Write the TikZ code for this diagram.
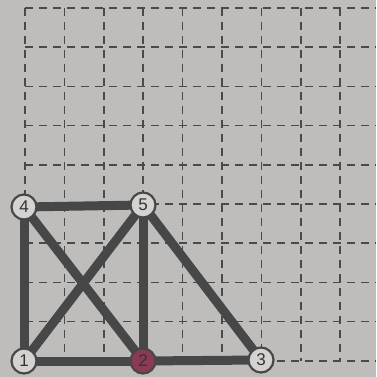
\documentclass[tikz,border=0pt]{standalone}
\usepackage{fontspec}
\setmainfont{Liberation Sans}
\usetikzlibrary{backgrounds}
\definecolor{paper}{HTML}{BEBDBB}
\definecolor{gridc}{HTML}{4A4A4A}
\definecolor{edgec}{HTML}{474747}
\definecolor{nodefill}{HTML}{D4D3D1}
\definecolor{redfill}{HTML}{8A3A55}
\begin{document}
\begin{tikzpicture}[x=1pt,y=-1pt,
  gridline/.style={draw=gridc,line width=1.7pt,dash pattern=on 8pt off 6pt},
  edge/.style={draw=edgec,line width=9pt},
  vertex/.style={circle,draw=edgec,line width=2.2pt,fill=nodefill,minimum size=25pt,inner sep=0pt,font=\fontsize{17}{17}\selectfont,text=black!80},
  redvertex/.style={vertex,fill=redfill}]
\useasboundingbox (0,0) rectangle (376,377);
% nodes
\node[vertex] (n1) at (24,361) {1};
\node[redvertex] (n2) at (143,361) {2};
\node[vertex] (n3) at (261,360) {3};
\node[vertex] (n4) at (24,207) {4};
\node[vertex] (n5) at (143,205) {5};
\begin{scope}[on background layer]
\fill[paper] (0,0) rectangle (376,377);
% grid
\foreach \i in {0,...,8} {
  \draw[gridline] ({25+39.4*\i},8) -- ({25+39.4*\i},361);
}
\foreach \j in {0,...,9} {
  \draw[gridline] (25,{8+39.2*\j}) -- (376,{8+39.2*\j});
}
% edges
\path[edge] (n1.center) -- (n4.center);
\path[edge] (n4.center) -- (n5.center);
\path[edge] (n1.center) -- (n2.center);
\path[edge] (n2.center) -- (n3.center);
\path[edge] (n4.center) -- (n2.center);
\path[edge] (n1.center) -- (n5.center);
\path[edge] (n5.center) -- (n2.center);
\path[edge] (n5.center) -- (n3.center);
\end{scope}
\end{tikzpicture}
\end{document}
